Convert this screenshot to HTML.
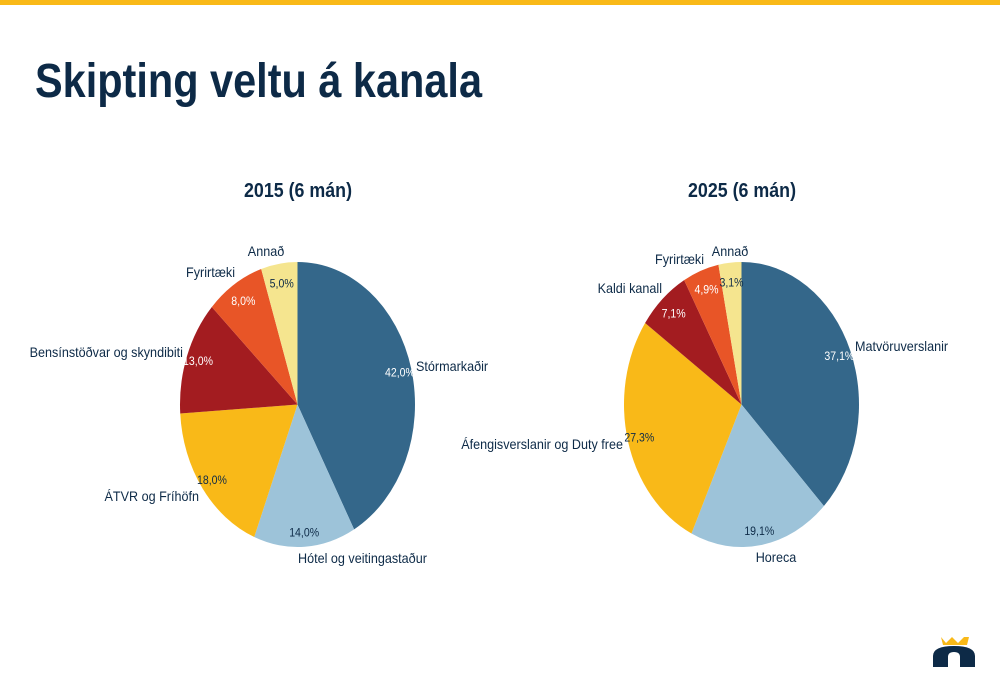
<!DOCTYPE html>
<html><head><meta charset="utf-8"><style>
html,body{margin:0;padding:0;background:#fff;width:1000px;height:685px;overflow:hidden}
svg{display:block;font-family:"Liberation Sans",Arial,sans-serif}
</style></head><body>
<svg id="svg" width="1000" height="685" viewBox="0 0 1000 685">
<rect x="0" y="0" width="1000" height="5" fill="#f9b918"/>
<text x="35" y="97" font-size="48" font-weight="bold" fill="#0d2a47" textLength="447" lengthAdjust="spacingAndGlyphs">Skipting veltu á kanala</text>
<text x="298" y="197" font-size="20" font-weight="bold" fill="#0d2a47" text-anchor="middle" textLength="108" lengthAdjust="spacingAndGlyphs">2015 (6 mán)</text>
<text x="742" y="197" font-size="20" font-weight="bold" fill="#0d2a47" text-anchor="middle" textLength="108" lengthAdjust="spacingAndGlyphs">2025 (6 mán)</text>
<g id="pie1"></g>
<g id="pie2"></g>
<g id="names" font-size="14" fill="#0d2a47">
<text x="416" y="371">Stórmarkaðir</text>
<text x="298" y="563">Hótel og veitingastaður</text>
<text x="199" y="501" text-anchor="end">ÁTVR og Fríhöfn</text>
<text x="183" y="357" text-anchor="end">Bensínstöðvar og skyndibiti</text>
<text x="235" y="277" text-anchor="end">Fyrirtæki</text>
<text x="266" y="256" text-anchor="middle">Annað</text>
<text x="855" y="351">Matvöruverslanir</text>
<text x="776" y="562" text-anchor="middle">Horeca</text>
<text x="623" y="449" text-anchor="end">Áfengisverslanir og Duty free</text>
<text x="662" y="293" text-anchor="end">Kaldi kanall</text>
<text x="704" y="264" text-anchor="end">Fyrirtæki</text>
<text x="730" y="256" text-anchor="middle">Annað</text>
</g>
<g>
<polygon points="941,637 946,643 952,637 958,643 964,637 969,637 967,645 943,645" fill="#f9b918"/>
<path d="M933,667 L933,656 Q933,646 954,646 Q975,646 975,656 L975,667 L960,667 L960,657 Q960,652 954,652 Q948,652 948,657 L948,667 Z" fill="#0d2a47"/>
</g>
</svg>
<script>
const values2015 = [42.0, 14.0, 18.0, 13.0, 8.0, 5.0];
const labels2015 = ["42,0%", "14,0%", "18,0%", "13,0%", "8,0%", "5,0%"];
const values2025 = [37.1, 19.1, 27.3, 7.1, 4.9, 3.1];
const labels2025 = ["37,1%", "19,1%", "27,3%", "7,1%", "4,9%", "3,1%"];
const colors = ["#34678a", "#9dc3d9", "#f9b918", "#a31c20", "#e85527", "#f5e58f"];
const textColors = ["#ffffff", "#0d2a47", "#0d2a47", "#ffffff", "#ffffff", "#0d2a47"];
const NS = "http://www.w3.org/2000/svg";
function drawPie(gid, vals, labs, cx, cy, rx, ry, names) {
  const g = document.getElementById(gid);
  const total = vals.reduce((a, b) => a + b, 0);
  let cum = 0;
  const pt = (a, f) => [cx + rx * f * Math.sin(a), cy - ry * f * Math.cos(a)];
  vals.forEach((v, i) => {
    const a0 = cum / total * 2 * Math.PI;
    cum += v;
    const a1 = cum / total * 2 * Math.PI;
    const p0 = pt(a0, 1), p1 = pt(a1, 1);
    const large = (a1 - a0) > Math.PI ? 1 : 0;
    const path = document.createElementNS(NS, "path");
    path.setAttribute("d", `M${cx},${cy} L${p0[0]},${p0[1]} A${rx},${ry} 0 ${large} 1 ${p1[0]},${p1[1]} Z`);
    path.setAttribute("fill", colors[i]);
    
    
    g.appendChild(path);
    const am = (a0 + a1) / 2;
    const f = v < 10 ? 0.86 : 0.9;
    const lp = pt(am, f);
    const t = document.createElementNS(NS, "text");
    t.setAttribute("x", lp[0]);
    t.setAttribute("y", lp[1] + 4);
    t.setAttribute("text-anchor", "middle");
    t.setAttribute("font-size", "12");
    t.setAttribute("fill", textColors[i]);
    t.textContent = labs[i];
    
    
    g.appendChild(t);
    const w = t.getComputedTextLength();
    t.setAttribute("textLength", (w * 0.88).toFixed(1));
    t.setAttribute("lengthAdjust", "spacingAndGlyphs");
  });
}
drawPie("pie1", values2015, labels2015, 297.5, 404.5, 117.5, 142.5, ["slice-stormarkadir","slice-hotel","slice-atvr","slice-bensinstodvar","slice-fyrirtaeki","slice-annad"]);
drawPie("pie2", values2025, labels2025, 741.5, 404.5, 117.5, 142.5, ["slice-matvoruverslanir","slice-horeca","slice-afengisverslanir","slice-kaldi-kanall","slice-fyrirtaeki","slice-annad"]);
document.querySelectorAll("#names text").forEach(t => {
  const w = t.getComputedTextLength();
  t.setAttribute("textLength", (w * 0.9).toFixed(1));
  t.setAttribute("lengthAdjust", "spacingAndGlyphs");
});
</script>
</body></html>
